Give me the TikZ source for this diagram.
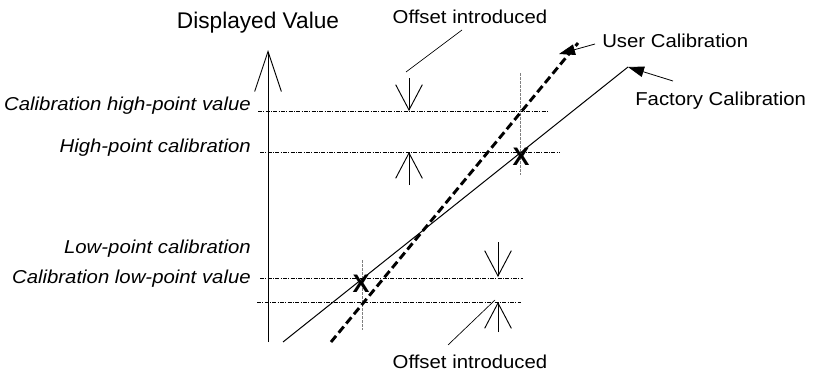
\documentclass[tikz,border=0pt]{standalone}
\usepackage{fontspec}
\setmainfont{Liberation Sans}
\newfontfamily\labelfont[FakeStretch=1.09]{Liberation Sans}
\usetikzlibrary{arrows.meta}
\begin{document}
\begin{tikzpicture}[x=0.75pt,y=-0.75pt,
    level/.style={line width=0.5pt,dash pattern=on 3pt off 1pt on 0.75pt off 1pt},
    markline/.style={gray,line width=0.5pt,dash pattern=on 2pt off 1pt},
    barb/.style={-{Straight Barb[length=19pt,width=20pt]},line width=0.7pt},
    pointer/.style={-{Triangle[length=12pt,width=8pt]},line width=0.6pt},
    lab/.style={inner sep=0pt,font=\labelfont\fontsize{14}{16}\selectfont},
    ilab/.style={inner sep=0pt,anchor=base east,font=\labelfont\itshape\fontsize{14}{16}\selectfont},
    xmark/.style={inner sep=0pt,font=\bfseries\fontsize{19}{19}\selectfont}]
\useasboundingbox (0,0) rectangle (814,371);
% Axis
    \coordinate (axbot) at (268,342);
    \coordinate (axtop) at (268,50);
    \draw[-{Straight Barb[length=30pt,width=20pt]},line width=0.7pt] (axbot) -- (axtop);
    \node[font=\fontsize{17}{19}\selectfont,inner sep=0pt,anchor=base] (title) at (258,28) {Displayed Value};
% Levels
    \foreach \n/\y/\a/\b in {hv/111/258/548,hc/152/260/560,lv/278/260/523,lc/302/257/521}{
        \coordinate (\n-l) at (\a,\y);
        \coordinate (\n-r) at (\b,\y);
        \draw[level] (\n-l) -- (\n-r);
    }
    \node[ilab] (hival) at (251,110) {Calibration high-point value};
    \node[ilab] (hical) at (251,152) {High-point calibration};
    \node[ilab] (local) at (251,253) {Low-point calibration};
    \node[ilab] (loval) at (251,283) {Calibration low-point value};
% Calibration points
    \coordinate (hi-t) at (520,73);
    \coordinate (hi-b) at (520,175);
    \coordinate (lo-t) at (362,260);
    \coordinate (lo-b) at (362,330);
    \draw[markline] (hi-t) -- (hi-b);
    \draw[markline] (lo-t) -- (lo-b);
    \node[xmark] (xhi) at (521,157) {X};
    \node[xmark] (xlo) at (361,284) {X};
% Lines
    \coordinate (fac-a) at (283,342);
    \coordinate (fac-b) at (628,67);
    \coordinate (usr-a) at (331,342);
    \coordinate (usr-b) at (578,43);
    \draw[line width=0.75pt] (fac-a) -- (fac-b);
    \draw[line width=2.2pt,dash pattern=on 6pt off 3pt] (usr-a) -- (usr-b);
    \node[lab,anchor=base west] (user) at (602,47) {User Calibration};
    \node[lab,anchor=base west] (factory) at (635,105) {Factory Calibration};
    \coordinate (user-p) at (595,44);
    \coordinate (user-t) at (559,54);
    \coordinate (fac-p) at (673,81);
    \draw[pointer] (user-p) -- (user-t);
    \draw[pointer] (fac-p) -- (fac-b);
% Offsets
    \draw[barb] (409,78) -- (409,111);
    \draw[barb] (409,185) -- (409,152);
    \draw[barb] (498,242) -- (498,277);
    \draw[barb] (498,332) -- (498,302);
    \node[lab,anchor=base] (offtop) at (470,23) {Offset introduced};
    \node[lab,anchor=base] (offbot) at (470,368) {Offset introduced};
    \coordinate (offtop-a) at (462,30);
    \coordinate (offtop-b) at (406,72);
    \coordinate (offbot-a) at (448,345);
    \coordinate (offbot-b) at (495,300);
    \draw[line width=0.5pt] (offtop-a) -- (offtop-b);
    \draw[line width=0.5pt] (offbot-a) -- (offbot-b);
\end{tikzpicture}
\end{document}
